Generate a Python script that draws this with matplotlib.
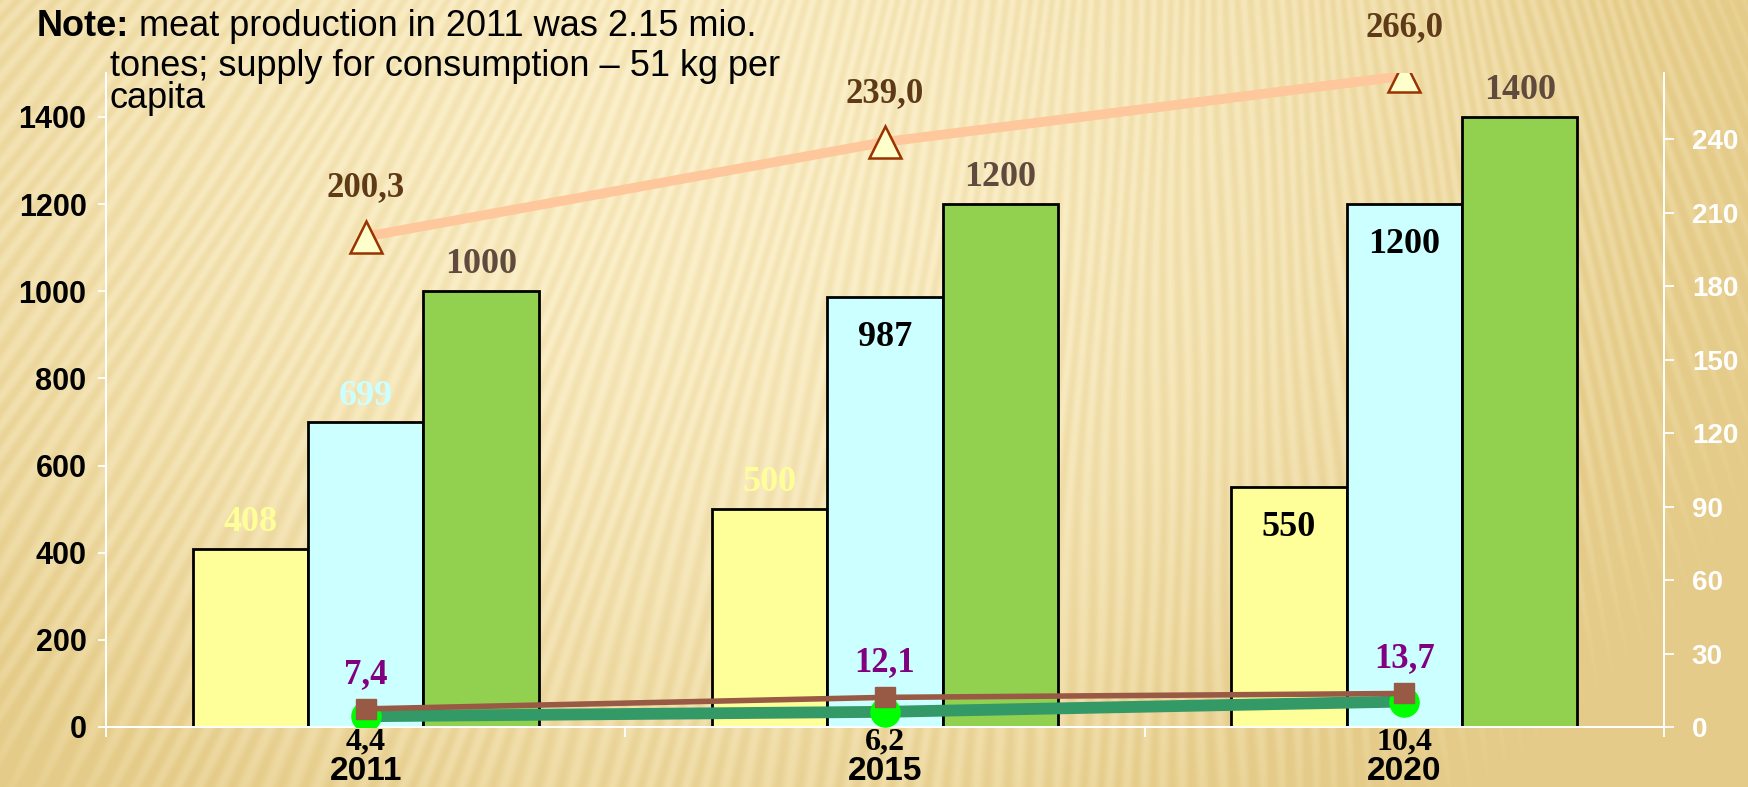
import numpy as np
import matplotlib.pyplot as plt

# categories and series
years = ['2011', '2015', '2020']
bar_yellow = [408, 500, 550]
bar_cyan = [699, 987, 1200]
bar_green = [1000, 1200, 1400]
line_peach = [200.3, 239.0, 266.0]
line_brown = [7.4, 12.1, 13.7]
line_green = [4.4, 6.2, 10.4]

W, H = 1749, 787
fig = plt.figure(figsize=(W / 100, H / 100), dpi=100)

# wood-like striped background: a fan of stripes from a point above the top edge
yy, xx = np.mgrid[0:H, 0:W].astype(float)
ox, oy = W * 0.68, -1300
theta = np.arctan2(xx - ox, yy - oy)
stripes = 0.5 + 0.5 * np.sin(theta * 700 + 1.2 * np.sin(theta * 60 + yy / 90))
r2 = ((xx - W * 0.4) / (W * 0.6)) ** 2 + ((yy - H * 0.2) / (H * 1.0)) ** 2
t = np.clip(0.05 + 0.8 * r2 + 0.3 * stripes, 0, 1)[..., None]
light = np.array([253, 242, 206]) / 255
dark = np.array([229, 204, 138]) / 255
bg = light * (1 - t) + dark * t
bgax = fig.add_axes([0, 0, 1, 1], zorder=-10)
bgax.imshow(bg, aspect='auto')
bgax.axis('off')

sans = ['Liberation Sans', 'DejaVu Sans']
serif = ['Liberation Serif', 'DejaVu Serif']

ax = fig.add_axes([106 / W, 1 - 727 / H, (1664 - 106) / W, (727 - 73.4) / H])
ax.patch.set_visible(False)
ax2 = ax.twinx()
ax2.set_zorder(ax.get_zorder() + 1)
ax2.patch.set_visible(False)

x = np.arange(len(years))
bw = 2 / 9
bar_sets = [
    (bar_yellow, '#FFFF99', -bw),
    (bar_cyan, '#CCFFFF', 0),
    (bar_green, '#92D050', bw),
]
for vals, col, off in bar_sets:
    ax.bar(x + off, vals, bw, color=col, edgecolor='black', linewidth=2, zorder=2)

# bar value labels: (values, offset, colours, inside?)
bar_labels = [
    (bar_yellow, -bw, ['#FFFF99', '#FFFF99', 'black'], [False, False, True]),
    (bar_cyan, 0, ['#CCFFFF', 'black', 'black'], [False, True, True]),
    (bar_green, bw, ['#604A3E'] * 3, [False, False, False]),
]
for vals, off, cols, inside in bar_labels:
    for i, v in enumerate(vals):
        dy = -29 if inside[i] else 19
        ax.annotate(f'{v}', (i + off, v), xytext=(0, dy), textcoords='offset points',
                    ha='center', va='center', fontsize=26, fontweight='bold',
                    family=serif, color=cols[i], zorder=5)

ax.set_xlim(-0.5, 2.5)
ax.set_ylim(0, 1500)
ax2.set_ylim(0, 267)

ax2.plot(x, line_peach, color='#FFC79C', lw=7, solid_capstyle='round', zorder=3)
ax2.plot(x, line_peach, ls='none', marker='^', ms=23, mfc='#FFFFCC', mec='#993300', mew=1.8, zorder=4)
ax2.plot(x, line_green, color='#339966', lw=8.5, marker='o', ms=21, mfc='#00FF00', mec='#00FF00', zorder=3)
ax2.plot(x, line_brown, color='#985A45', lw=4, marker='s', ms=14, mfc='#985A45', mec='#985A45', zorder=4)

fmt = lambda v: f'{v:.1f}'.replace('.', ',')
for i, v in enumerate(line_peach):
    ax2.annotate(fmt(v), (i, v), xytext=(0, 35), textcoords='offset points', ha='center', va='center',
                 fontsize=25, fontweight='bold', family=serif, color='#5E3A17', annotation_clip=False)
for i, v in enumerate(line_brown):
    ax2.annotate(fmt(v), (i, v), xytext=(0, 25), textcoords='offset points', ha='center', va='center',
                 fontsize=25, fontweight='bold', family=serif, color='#800080')
for i, v in enumerate(line_green):
    ax2.annotate(fmt(v), (i, 0), xycoords=('data', 'axes fraction'), xytext=(0, -11),
                 textcoords='offset points', ha='center', va='center', fontsize=23,
                 fontweight='bold', family=serif, color='black', annotation_clip=False)

# axes styling
for a in (ax, ax2):
    a.spines['top'].set_visible(False)
    for s in ('left', 'right', 'bottom'):
        a.spines[s].set_color('white')
        a.spines[s].set_linewidth(1.3)

ax.set_xticks(x, years)
ax.set_xticks([-0.5, 0.5, 1.5, 2.5], minor=True)
ax.tick_params(axis='x', which='major', length=0, pad=21)
ax.tick_params(axis='x', which='minor', length=7, color='white', width=1.3)
for lab in ax.get_xticklabels():
    lab.set_family(sans)
    lab.set_fontsize(24)
    lab.set_fontweight('bold')

ax.set_yticks(range(0, 1401, 200))
ax.tick_params(axis='y', length=6, color='white', width=1.3, pad=8)
for lab in ax.get_yticklabels():
    lab.set_family(sans)
    lab.set_fontsize(22)
    lab.set_fontweight('bold')

ax2.set_yticks(range(0, 241, 30))
ax2.tick_params(axis='y', length=7, color='white', width=1.3, pad=13, labelcolor='white')
for lab in ax2.get_yticklabels():
    lab.set_family(sans)
    lab.set_fontsize(20)
    lab.set_fontweight('bold')

# note in the top-left corner
note = fig.text(37 / W, 1 - 27 / H, 'Note:', fontsize=26, fontweight='bold', family=sans,
                va='center', ha='left')
ax.annotate(' meat production in 2011 was 2.15 mio.', xy=(1, 0), xycoords=note, va='bottom',
            ha='left', fontsize=26, family=sans, annotation_clip=False)
fig.text(110 / W, 1 - 66 / H, 'tones; supply for consumption \u2013 51 kg per', fontsize=26,
         family=sans, va='center', ha='left')
fig.text(110 / W, 1 - 98 / H, 'capita', fontsize=26, family=sans, va='center', ha='left')

fig.savefig('out.png', dpi=100)
